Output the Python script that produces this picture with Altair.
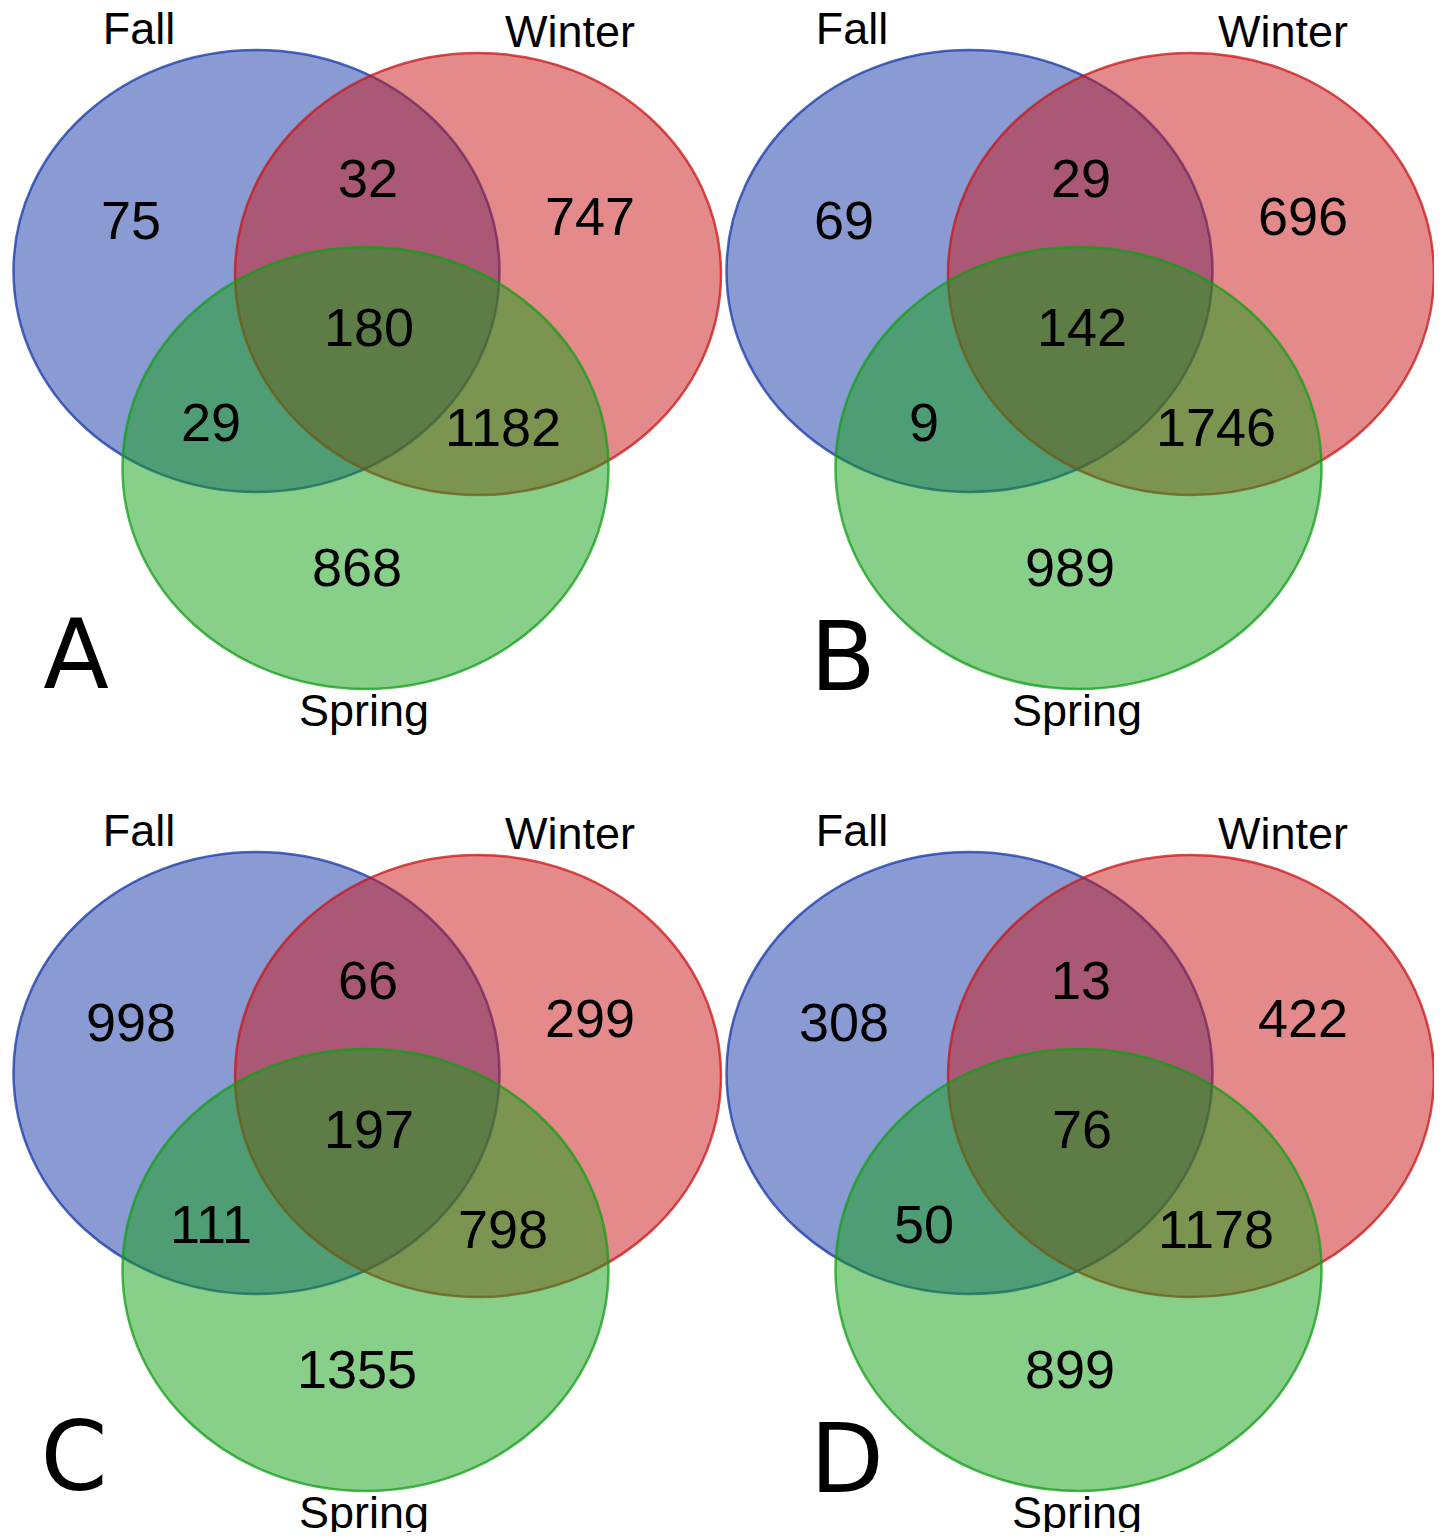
import altair as alt
import pandas as pd

# ---------------- data ----------------
panels = ["A", "B", "C", "D"]
sets = ["Fall", "Winter", "Spring"]
regions = ["Fall only", "Winter only", "Spring only",
           "Fall & Winter", "Fall & Spring", "Winter & Spring", "All three"]
counts_A = [75, 747, 868, 32, 29, 1182, 180]
counts_B = [69, 696, 989, 29, 9, 1746, 142]
counts_C = [998, 299, 1355, 66, 111, 798, 197]
counts_D = [308, 422, 899, 13, 50, 1178, 76]
counts = {"A": counts_A, "B": counts_B, "C": counts_C, "D": counts_D}

# ---------------- layout (pixel-like coordinates) ----------------
W, H = 1442, 1540
M = 8  # page margin
CW, CH = W - 2 * M, H - 2 * M  # chart size that fits the window without scrollbars
panel_offset = {"A": (0, 0), "B": (713, 0), "C": (0, 802), "D": (713, 802)}
ellipse_center = {"Fall": (256.5, 271), "Winter": (478, 274), "Spring": (365.5, 468)}
RX, RY = 243.0, 221.0
region_pos = {  # center x, baseline y
    "Fall only": (131, 239), "Winter only": (590, 235), "Spring only": (357, 586),
    "Fall & Winter": (368, 197), "Fall & Spring": (211, 441),
    "Winter & Spring": (503, 446), "All three": (369, 346),
}
set_label_pos = {"Fall": (139, 44), "Winter": (570, 47), "Spring": (364, 726)}
letter_pos = {"A": (76, 688), "B": (130, 690), "C": (74, 688), "D": (134, 690)}

fill_colors = ["#1537a9", "#c91515", "#119f15"]

# ellipse as custom symbol path (unit half-width, bezier approximation)
e = RY / RX
k = 0.5523
ellipse_path = (
    f"M1,0 C1,{k*e:.4f} {k:.4f},{e:.4f} 0,{e:.4f} "
    f"C{-k:.4f},{e:.4f} -1,{k*e:.4f} -1,0 "
    f"C-1,{-k*e:.4f} {-k:.4f},{-e:.4f} 0,{-e:.4f} "
    f"C{k:.4f},{-e:.4f} 1,{-k*e:.4f} 1,0 Z"
)
size = (2 * RX) ** 2

ell_rows = []
for s in sets:
    for p in panels:
        ox, oy = panel_offset[p]
        cx, cy = ellipse_center[s]
        ell_rows.append({"panel": p, "set": s, "x": cx + ox, "y": cy + oy})
ell_df = pd.DataFrame(ell_rows)

num_rows = []
for p in panels:
    ox, oy = panel_offset[p]
    for r, c in zip(regions, counts[p]):
        x, y = region_pos[r]
        num_rows.append({"panel": p, "region": r, "count": str(c), "x": x + ox, "y": y + oy})
num_df = pd.DataFrame(num_rows)

lab_rows = []
for p in panels:
    ox, oy = panel_offset[p]
    for s in sets:
        x, y = set_label_pos[s]
        lab_rows.append({"panel": p, "label": s, "x": x + ox, "y": y + oy})
lab_df = pd.DataFrame(lab_rows)

let_rows = []
for p in panels:
    ox, oy = panel_offset[p]
    x, y = letter_pos[p]
    let_rows.append({"panel": p, "x": x + ox, "y": y + oy})
let_df = pd.DataFrame(let_rows)

xs = alt.Scale(domain=[M, M + CW], nice=False, zero=False)
ys = alt.Scale(domain=[M, M + CH], nice=False, zero=False, reverse=True)
X = lambda: alt.X("x:Q", scale=xs, axis=None)
Y = lambda: alt.Y("y:Q", scale=ys, axis=None)

color_scale = alt.Scale(domain=sets, range=fill_colors)

ellipses = alt.Chart(ell_df).mark_point(
    shape=ellipse_path, size=size, filled=True, opacity=1,
    fillOpacity=0.5, strokeOpacity=0.75, strokeWidth=2.5,
).encode(
    x=X(), y=Y(),
    fill=alt.Fill("set:N", scale=color_scale, legend=None),
    stroke=alt.Stroke("set:N", scale=color_scale, legend=None),
)

numbers = alt.Chart(num_df).mark_text(
    font="Liberation Sans", fontSize=54, align="center", baseline="alphabetic", color="black"
).encode(x=X(), y=Y(), text="count:N")

labels = alt.Chart(lab_df).mark_text(
    font="Liberation Sans", fontSize=45, align="center", baseline="alphabetic", color="black"
).encode(x=X(), y=Y(), text="label:N")

letters = alt.Chart(let_df).mark_text(
    font="DejaVu Sans", fontSize=96, align="center", baseline="alphabetic", color="black"
).encode(x=X(), y=Y(), text="panel:N")

chart = alt.layer(ellipses, numbers, labels, letters).properties(
    width=CW, height=CH, padding=0, autosize=alt.AutoSizeParams(type="none"),
    background="white",
).configure_view(strokeWidth=0)

chart.save("out.html", embed_options={"renderer": "svg", "actions": False})
